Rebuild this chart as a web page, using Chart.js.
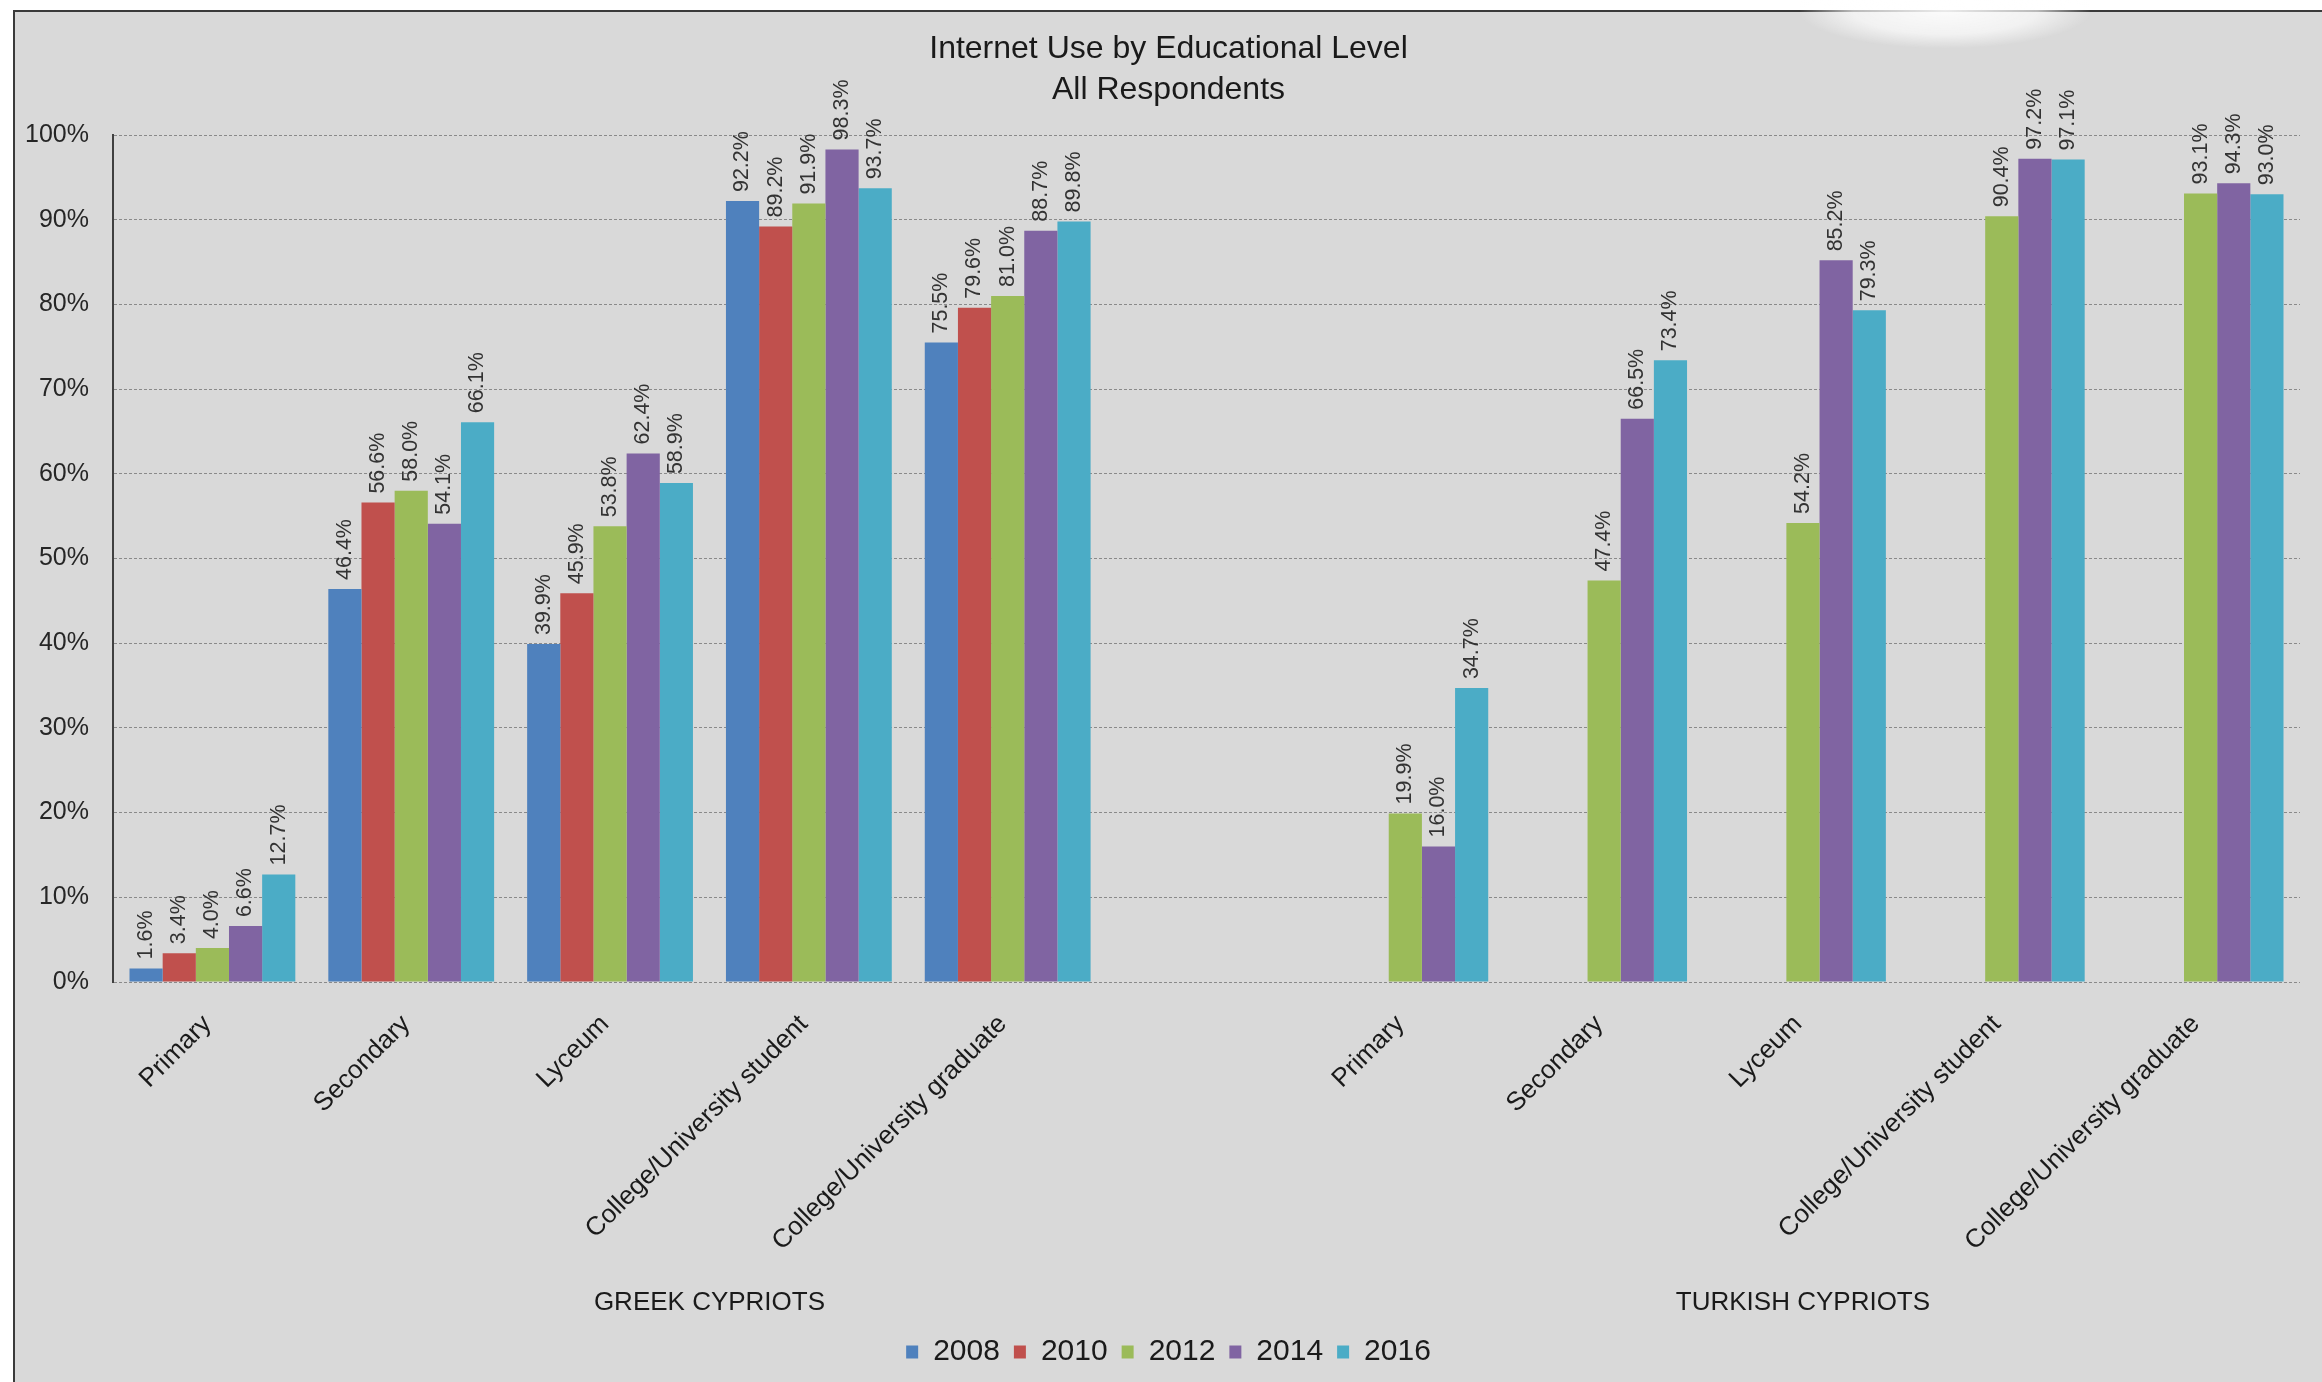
<!DOCTYPE html>
<html>
<head>
<meta charset="utf-8">
<title>Internet Use by Educational Level</title>
<script src="https://cdn.jsdelivr.net/npm/chart.js@4.4.1/dist/chart.umd.min.js"></script>
<style>
  html, body { margin: 0; padding: 0; background: #ffffff; overflow: hidden; width: 2322px; height: 1382px; }
  #frame {
    position: absolute; left: 13px; top: 10px; width: 2400px; height: 1400px;
    background: #d9d9d9; border-left: 2px solid #3a3a3a; border-top: 2px solid #3a3a3a;
  }
  #chart { position: absolute; left: 0; top: 0; }
  #glare {
    position: absolute; left: 1800px; top: -28px; width: 290px; height: 76px; z-index: 2;
    background: radial-gradient(ellipse at center, rgba(255,255,255,0.9) 0%, rgba(255,255,255,0.65) 45%, rgba(255,255,255,0) 72%);
    pointer-events: none;
  }
</style>
</head>
<body>
<div id="frame"><canvas id="chart" width="2307" height="1370"></canvas></div>
<div id="glare"></div>
<script>
// Survey years (one bar series per year)
const years = ['2008', '2010', '2012', '2014', '2016'];
const yearColors = ['#4f81bd', '#c0504d', '#9bbb59', '#8064a2', '#4bacc6'];

// Educational levels, repeated for each community with an empty slot between them
const levels = ['Primary', 'Secondary', 'Lyceum', 'College/University student', 'College/University graduate'];
const categories = [...levels, '', ...levels];
const groupNames = ['GREEK CYPRIOTS', 'TURKISH CYPRIOTS'];

// Greek Cypriots: share using the internet (%) by level
const greek2008 = [1.6, 46.4, 39.9, 92.2, 75.5];
const greek2010 = [3.4, 56.6, 45.9, 89.2, 79.6];
const greek2012 = [4.0, 58.0, 53.8, 91.9, 81.0];
const greek2014 = [6.6, 54.1, 62.4, 98.3, 88.7];
const greek2016 = [12.7, 66.1, 58.9, 93.7, 89.8];

// Turkish Cypriots: no survey data for 2008 and 2010
const turkish2008 = [null, null, null, null, null];
const turkish2010 = [null, null, null, null, null];
const turkish2012 = [19.9, 47.4, 54.2, 90.4, 93.1];
const turkish2014 = [16.0, 66.5, 85.2, 97.2, 94.3];
const turkish2016 = [34.7, 73.4, 79.3, 97.1, 93.0];

// Percentage axis ticks
const yTicks = [0, 10, 20, 30, 40, 50, 60, 70, 80, 90, 100];
const yTickLabels = ['0%', '10%', '20%', '30%', '40%', '50%', '60%', '70%', '80%', '90%', '100%'];

const greekByYear = [greek2008, greek2010, greek2012, greek2014, greek2016];
const turkishByYear = [turkish2008, turkish2010, turkish2012, turkish2014, turkish2016];

const FONT = '"Liberation Sans", Arial, Helvetica, sans-serif';
Chart.defaults.font.family = FONT;
Chart.defaults.color = '#1a1a1a';

const PLOT_BOTTOM = 970;   // canvas y of the 0% line
const LAYOUT_BOTTOM = 5;

// Rotated value labels above each bar
const valueLabels = {
  id: 'valueLabels',
  afterDatasetsDraw(chart) {
    const ctx = chart.ctx;
    ctx.save();
    ctx.font = '21.5px ' + FONT;
    ctx.fillStyle = '#333333';
    ctx.textAlign = 'left';
    ctx.textBaseline = 'middle';
    chart.data.datasets.forEach((ds, i) => {
      const meta = chart.getDatasetMeta(i);
      meta.data.forEach((bar, j) => {
        const v = ds.data[j];
        if (v === null || v === undefined) return;
        ctx.save();
        ctx.translate(bar.x, bar.y - 9);
        ctx.rotate(-Math.PI / 2);
        ctx.fillText(v.toFixed(1) + '%', 0, 0);
        ctx.restore();
      });
    });
    ctx.restore();
  }
};

// Community names under each block of categories
const groupLabels = {
  id: 'groupLabels',
  afterDraw(chart) {
    const x = chart.scales.x;
    const ctx = chart.ctx;
    const y = chart.chartArea.bottom + 321;
    const greekCenter = (x.getPixelForValue(0) + x.getPixelForValue(5)) / 2;
    const turkishCenter = x.getPixelForValue(8);
    ctx.save();
    ctx.font = '26px ' + FONT;
    ctx.fillStyle = '#1a1a1a';
    ctx.textAlign = 'center';
    ctx.textBaseline = 'middle';
    ctx.fillText(groupNames[0], greekCenter, y);
    ctx.fillText(groupNames[1], turkishCenter, y);
    ctx.restore();
  }
};

const datasets = years.map((yr, i) => ({
  label: yr,
  data: [...greekByYear[i], null, ...turkishByYear[i]],
  backgroundColor: yearColors[i],
  borderWidth: 0,
  categoryPercentage: 0.834,
  barPercentage: 1.0
}));

new Chart(document.getElementById('chart'), {
  type: 'bar',
  data: { labels: categories, datasets },
  plugins: [valueLabels, groupLabels],
  options: {
    responsive: false,
    animation: false,
    layout: { padding: { left: 22, right: 22, top: 0, bottom: LAYOUT_BOTTOM } },
    plugins: {
      title: {
        display: true,
        text: ['Internet Use by Educational Level', 'All Respondents'],
        color: '#1a1a1a',
        font: { size: 32, weight: 'normal', lineHeight: 41 / 32 },
        padding: { top: 17, bottom: 24 }
      },
      legend: {
        position: 'bottom',
        labels: {
          boxWidth: 12, boxHeight: 13, padding: 14,
          color: '#1a1a1a',
          font: { size: 30 }
        }
      },
      tooltip: { enabled: false }
    },
    scales: {
      x: {
        grid: { display: false, drawTicks: false },
        border: { display: false },
        ticks: {
          autoSkip: false, minRotation: 45, maxRotation: 45, padding: 27, labelOffset: -5,
          color: '#1a1a1a', font: { size: 26 }
        },
        afterFit(s) {
          const lg = s.chart.legend;
          s.height = s.chart.height - LAYOUT_BOTTOM - (lg ? lg.height : 0) - PLOT_BOTTOM;
        }
      },
      y: {
        min: 0, max: 100,
        afterBuildTicks(s) { s.ticks = yTicks.map(v => ({ value: v })); },
        ticks: {
          padding: 24, color: '#262626', font: { size: 25 },
          callback: (v) => yTickLabels[yTicks.indexOf(v)]
        },
        grid: { color: '#8a8a8a', lineWidth: 1, drawTicks: false },
        border: { display: true, color: '#404040', width: 2, dash: [3, 2] },
        afterFit(s) {
          s.width = 76;
          // let the widest tick label ("100%") run into the left margin
          s._computeLabelArea = () => null;
        }
      }
    }
  }
});
</script>
</body>
</html>
